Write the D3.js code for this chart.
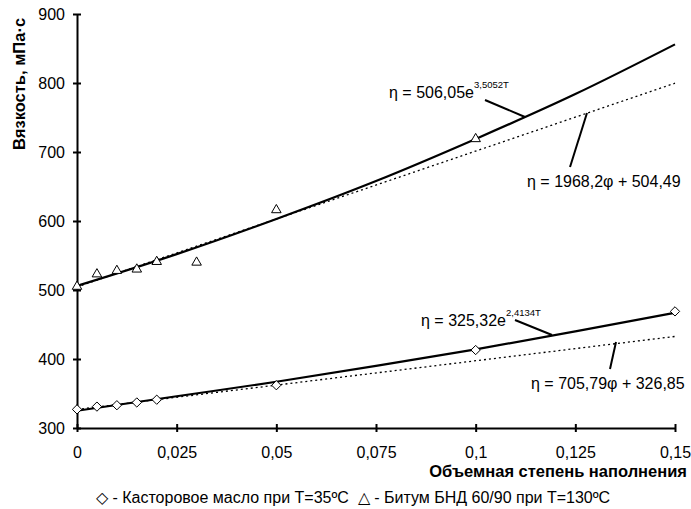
<!DOCTYPE html>
<html>
<head>
<meta charset="utf-8">
<script src="https://cdn.jsdelivr.net/npm/d3@7"></script>
<style>
  body { margin: 0; background: #fff; }
  text { font-family: "Liberation Sans", Arial, sans-serif; fill: #000; }
</style>
</head>
<body>
<svg id="chart"></svg>
<script>
// DATOS
const castorPhi = [0, 0.005, 0.01, 0.015, 0.02, 0.05, 0.1, 0.15];
const castorEta = [327, 331, 333, 337, 341, 362, 413, 469];
const bitumPhi = [0, 0.005, 0.01, 0.015, 0.02, 0.03, 0.05, 0.1];
const bitumEta = [505, 523, 528, 530, 541, 540, 616, 719];

// curvas de tendencia
const trendPhi = [0, 0.025, 0.05, 0.075, 0.1, 0.125, 0.15];
const bitumExp = [506, 552, 603, 658, 719, 784, 856];
const castorExp = [325, 346, 367, 390, 414, 440, 467];
const linPhi = [0, 0.15];
const bitumLin = [504.5, 799.7];
const castorLin = [326.9, 432.7];

const xTicks = [0, 0.025, 0.05, 0.075, 0.1, 0.125, 0.15];
const xTickLabels = ["0", "0,025", "0,05", "0,075", "0,1", "0,125", "0,15"];
const yTicks = [300, 400, 500, 600, 700, 800, 900];

const width = 691, height = 509;

const svg = d3.select("#chart")
  .attr("width", width)
  .attr("height", height);

// ESCALAS
const x = d3.scaleLinear().domain([0, 0.15]).range([77, 675]);
const y = d3.scaleLinear().domain([300, 900]).range([428, 14]);

// EJES
const gx = svg.append("g")
  .attr("transform", `translate(0,${y(300)})`)
  .call(d3.axisBottom(x).tickValues(xTicks)
    .tickFormat((d, i) => xTickLabels[i]).tickSizeOuter(0).tickPadding(13));
const gy = svg.append("g")
  .attr("transform", `translate(${x(0)},0)`)
  .call(d3.axisLeft(y).tickValues(yTicks).tickSizeOuter(0).tickPadding(6));

[gx, gy].forEach(g => {
  g.select(".domain").attr("stroke", "#000").attr("stroke-width", 2);
  g.selectAll(".tick text").attr("font-size", 16).attr("font-family", "Liberation Sans, Arial, sans-serif");
});
gx.selectAll(".tick line").attr("y1", -4).attr("y2", 4).attr("stroke-width", 2);
gy.selectAll(".tick line").attr("x1", -4).attr("x2", 4).attr("stroke-width", 2);

// TITULOS
svg.append("text")
  .attr("transform", "translate(25,84) rotate(-90)")
  .attr("text-anchor", "middle")
  .attr("font-size", 16.5).attr("font-weight", "bold")
  .text("Вязкость, мПа·с");

svg.append("text")
  .attr("x", 687).attr("y", 477)
  .attr("text-anchor", "end")
  .attr("font-size", 16.5).attr("font-weight", "bold")
  .text("Объемная степень наполнения");

// LINEAS
const line = d3.line().x(d => x(d[0])).y(d => y(d[1]));
const smooth = d3.line().x(d => x(d[0])).y(d => y(d[1])).curve(d3.curveMonotoneX);

[bitumLin, castorLin].forEach(vals => {
  svg.append("path")
    .datum(linPhi.map((p, i) => [p, vals[i]]))
    .attr("fill", "none").attr("stroke", "#000")
    .attr("stroke-width", 1.3).attr("stroke-dasharray", "2,3")
    .attr("d", line);
});
[bitumExp, castorExp].forEach(vals => {
  svg.append("path")
    .datum(trendPhi.map((p, i) => [p, vals[i]]))
    .attr("fill", "none").attr("stroke", "#000")
    .attr("stroke-width", 2.2)
    .attr("d", smooth);
});

// PUNTOS
const diamond = d3.symbol().type(d3.symbolDiamond2).size(55);
const triangle = d3.symbol().type(d3.symbolTriangle2).size(65);

svg.selectAll(".castor")
  .data(castorPhi.map((p, i) => [p, castorEta[i]]))
  .enter().append("path")
  .attr("class", "castor")
  .attr("transform", d => `translate(${x(d[0])},${y(d[1])})`)
  .attr("d", diamond)
  .attr("fill", "#fff").attr("stroke", "#000").attr("stroke-width", 1);

svg.selectAll(".bitum")
  .data(bitumPhi.map((p, i) => [p, bitumEta[i]]))
  .enter().append("path")
  .attr("class", "bitum")
  .attr("transform", d => `translate(${x(d[0])},${y(d[1])})`)
  .attr("d", triangle)
  .attr("fill", "#fff").attr("stroke", "#000").attr("stroke-width", 1);

// ETIQUETAS DE ECUACIONES
function eqLabel(tx, ty, main, sup) {
  const t = svg.append("text").attr("x", tx).attr("y", ty).attr("font-size", 16);
  t.append("tspan").text(main);
  if (sup) t.append("tspan").attr("font-size", 9.5).attr("dy", -10).text(sup);
}
function leader(x1, y1, x2, y2) {
  svg.append("line").attr("x1", x1).attr("y1", y1).attr("x2", x2).attr("y2", y2)
    .attr("stroke", "#000").attr("stroke-width", 2);
}

eqLabel(389, 98, "η = 506,05e", "3,5052T");
leader(485, 100, 525, 117);
eqLabel(527, 187, "η = 1968,2φ + 504,49");
leader(570, 167, 587, 113);
eqLabel(421, 326, "η = 325,32e", "2,4134T");
leader(515, 320, 552, 335);
eqLabel(531, 389, "η = 705,79φ + 326,85");
leader(610, 369, 616, 342);

// LEYENDA
svg.append("text")
  .attr("x", 96).attr("y", 503)
  .attr("font-size", 16)
  .style("white-space", "pre")
  .text("◇ - Касторовое масло при T=35ºC  △ - Битум БНД 60/90 при T=130ºC");
</script>
</body>
</html>
